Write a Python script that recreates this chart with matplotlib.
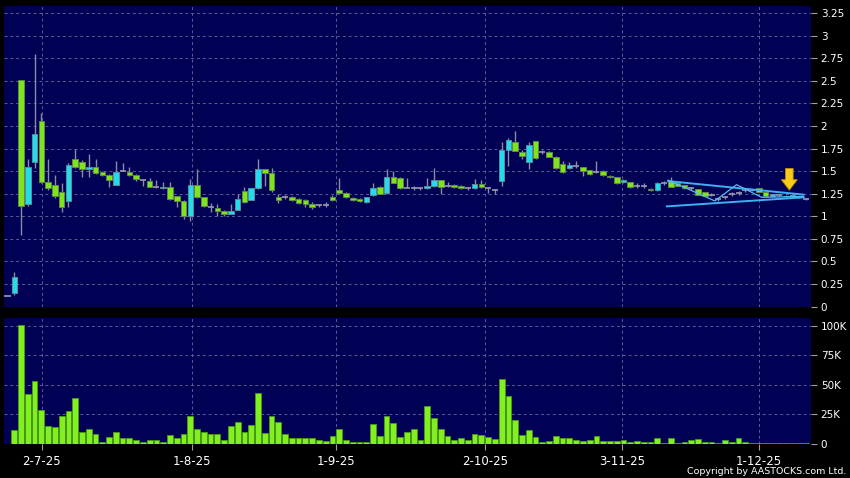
import matplotlib
matplotlib.use('Agg')
import matplotlib.pyplot as plt
import numpy as np

BG = '#000055'
UP = '#22dcee'
DOWN = '#7fe41e'
FLAT = '#9a9aae'
WICK = '#8c8ca0'
GRID = '#5c5c92'

# daily OHLC, one entry per trading day
opens = [0.12, 0.15, 2.51, 1.14, 1.60, 2.06, 1.38, 1.35, 1.27, 1.17,
         1.63, 1.60, 1.52, 1.55, 1.49, 1.46, 1.35, 1.50, 1.49, 1.46,
         1.40, 1.39, 1.32, 1.31, 1.33, 1.22, 1.17, 1.00, 1.35, 1.21,
         1.10, 1.09, 1.06, 1.03, 1.07, 1.28, 1.18, 1.31, 1.52, 1.48,
         1.21, 1.21, 1.21, 1.19, 1.18, 1.14, 1.12, 1.13, 1.21, 1.29,
         1.26, 1.20, 1.19, 1.16, 1.24, 1.33, 1.26, 1.43, 1.42, 1.31,
         1.31, 1.31, 1.31, 1.34, 1.40, 1.34, 1.35, 1.34, 1.31, 1.31,
         1.36, 1.31, 1.29, 1.39, 1.73, 1.82, 1.71, 1.60, 1.83, 1.71,
         1.71, 1.66, 1.58, 1.53, 1.56, 1.55, 1.51, 1.49, 1.50, 1.45,
         1.43, 1.38, 1.38, 1.34, 1.34, 1.30, 1.29, 1.37, 1.39, 1.37,
         1.35, 1.31, 1.30, 1.27, 1.24, 1.19, 1.21, 1.25, 1.26, 1.29,
         1.29, 1.31, 1.27, 1.23, 1.24, 1.22, 1.22, 1.21, 1.19]
highs = [0.12, 0.38, 2.51, 1.63, 2.80, 2.14, 1.64, 1.46, 1.37, 1.59,
         1.75, 1.62, 1.69, 1.64, 1.50, 1.47, 1.61, 1.59, 1.55, 1.47,
         1.41, 1.42, 1.40, 1.38, 1.38, 1.23, 1.18, 1.41, 1.52, 1.21,
         1.15, 1.14, 1.07, 1.14, 1.25, 1.32, 1.31, 1.63, 1.52, 1.54,
         1.25, 1.24, 1.22, 1.20, 1.19, 1.16, 1.14, 1.16, 1.24, 1.42,
         1.27, 1.21, 1.20, 1.21, 1.37, 1.34, 1.52, 1.50, 1.43, 1.42,
         1.34, 1.32, 1.42, 1.54, 1.40, 1.38, 1.36, 1.35, 1.33, 1.41,
         1.40, 1.32, 1.30, 1.82, 1.87, 1.94, 1.74, 1.82, 1.83, 1.74,
         1.72, 1.67, 1.61, 1.60, 1.61, 1.55, 1.51, 1.61, 1.51, 1.46,
         1.43, 1.41, 1.38, 1.37, 1.37, 1.31, 1.38, 1.39, 1.43, 1.38,
         1.35, 1.33, 1.30, 1.27, 1.26, 1.21, 1.23, 1.27, 1.28, 1.30,
         1.30, 1.31, 1.27, 1.25, 1.25, 1.24, 1.23, 1.22, 1.20]
lows = [0.12, 0.13, 0.79, 1.11, 1.53, 1.37, 1.29, 1.20, 1.05, 1.10,
        1.53, 1.43, 1.43, 1.47, 1.45, 1.32, 1.35, 1.50, 1.45, 1.39,
        1.34, 1.32, 1.31, 1.30, 1.18, 1.10, 0.97, 0.95, 1.20, 1.10,
        1.05, 1.00, 1.00, 1.02, 1.07, 1.15, 1.18, 1.30, 1.34, 1.27,
        1.15, 1.19, 1.17, 1.14, 1.10, 1.08, 1.10, 1.10, 1.17, 1.25,
        1.20, 1.17, 1.16, 1.15, 1.22, 1.25, 1.25, 1.37, 1.30, 1.31,
        1.29, 1.29, 1.30, 1.33, 1.25, 1.32, 1.31, 1.30, 1.29, 1.30,
        1.31, 1.26, 1.25, 1.34, 1.56, 1.72, 1.64, 1.52, 1.64, 1.69,
        1.66, 1.52, 1.48, 1.52, 1.53, 1.45, 1.46, 1.48, 1.45, 1.42,
        1.36, 1.37, 1.31, 1.31, 1.31, 1.28, 1.28, 1.35, 1.33, 1.34,
        1.30, 1.29, 1.24, 1.22, 1.22, 1.17, 1.19, 1.23, 1.24, 1.27,
        1.28, 1.27, 1.23, 1.22, 1.23, 1.21, 1.21, 1.20, 1.18]
closes = [0.12, 0.33, 1.11, 1.55, 1.91, 1.38, 1.31, 1.23, 1.10, 1.57,
          1.55, 1.52, 1.55, 1.48, 1.46, 1.40, 1.49, 1.50, 1.46, 1.41,
          1.40, 1.33, 1.32, 1.32, 1.19, 1.17, 1.00, 1.35, 1.21, 1.11,
          1.10, 1.06, 1.03, 1.06, 1.19, 1.16, 1.31, 1.52, 1.48, 1.29,
          1.18, 1.21, 1.18, 1.15, 1.14, 1.10, 1.12, 1.13, 1.18, 1.26,
          1.21, 1.18, 1.17, 1.21, 1.31, 1.25, 1.44, 1.37, 1.31, 1.31,
          1.31, 1.31, 1.34, 1.40, 1.33, 1.34, 1.32, 1.31, 1.31, 1.36,
          1.32, 1.31, 1.29, 1.73, 1.85, 1.72, 1.67, 1.79, 1.65, 1.71,
          1.66, 1.53, 1.49, 1.57, 1.56, 1.50, 1.47, 1.49, 1.46, 1.43,
          1.37, 1.40, 1.33, 1.34, 1.34, 1.29, 1.37, 1.37, 1.33, 1.34,
          1.31, 1.31, 1.24, 1.22, 1.24, 1.19, 1.21, 1.25, 1.26, 1.29,
          1.29, 1.27, 1.23, 1.25, 1.24, 1.23, 1.22, 1.21, 1.19]
# volume in thousands of shares
volume = [0, 11.1, 100.9, 41.9, 53.0, 28.2, 14.8, 14.2, 23.4, 27.9,
          39.0, 10.0, 12.0, 7.7, 1.7, 5.7, 9.4, 4.3, 4.8, 3.4,
          1.4, 3.4, 3.4, 0.9, 7.1, 4.6, 7.7, 23.6, 12.0, 10.0,
          7.7, 8.5, 2.9, 14.5, 18.5, 10.0, 15.7, 43.0, 8.8, 23.4,
          18.1, 7.7, 5.1, 4.6, 5.1, 4.6, 3.1, 2.3, 6.8, 12.0,
          3.4, 1.7, 1.1, 1.1, 16.8, 6.6, 23.1, 17.4, 5.4, 9.7,
          12.0, 2.6, 32.2, 21.7, 12.3, 6.0, 2.6, 4.3, 3.1, 7.7,
          7.1, 5.7, 3.7, 54.7, 40.2, 20.2, 7.1, 11.1, 5.4, 1.7,
          2.3, 6.6, 4.8, 4.3, 2.6, 2.3, 2.6, 6.0, 2.0, 2.3,
          2.3, 3.1, 0.9, 2.3, 1.1, 0.9, 4.3, 0.3, 4.3, 0.3,
          1.1, 2.6, 3.7, 0.9, 0.9, 0.3, 2.6, 0.9, 4.3, 1.7,
          0.3, 0.6, 0.6, 0.2, 0.1, 0.1, 0.2, 0.3, 0.1]

tick_pos = [5.05, 27.2, 48.5, 70.5, 90.8, 111.0]
tick_labels = ['2-7-25', '1-8-25', '1-9-25', '2-10-25', '3-11-25', '1-12-25']

# drawn trend lines (bar index, price)
upper_line = ([97.6, 117.6], [1.39, 1.24])
lower_line = ([97.4, 117.6], [1.11, 1.21])
zigzag = ([97.6, 104.5, 107.7, 111.4, 117.6], [1.40, 1.17, 1.35, 1.21, 1.22])
arrow_x, arrow_top, arrow_tip = 115.5, 1.53, 1.29

o = np.array(opens); h = np.array(highs); l = np.array(lows); c = np.array(closes)
idx = np.arange(len(o))
price_ticks = np.arange(0, 3.26, 0.25)

fig = plt.figure(figsize=(8.5, 4.78), dpi=100, facecolor='black')
ax1 = fig.add_axes([4/850, 171/478, 807/850, 301/478], facecolor=BG)
ax2 = fig.add_axes([4/850, 34.5/478, 807/850, 125.5/478], facecolor=BG)

for ax in (ax1, ax2):
    for s in ax.spines.values():
        s.set_visible(False)
    ax.set_xlim(-0.52, 118.7)
    for t in tick_pos:
        ax.axvline(t, color=GRID, lw=0.7, ls=(0, (3, 3)), zorder=0)
    ax.yaxis.tick_right()
    ax.tick_params(axis='y', colors='#a0a0a0', labelcolor='white', length=4, pad=3, labelsize=7.5)

# price panel
ax1.set_ylim(-0.005, 3.33)
ax1.set_yticks(price_ticks)
ax1.set_yticklabels(['%g' % v for v in price_ticks])
for v in price_ticks:
    ax1.axhline(v, color=GRID, lw=0.7, ls=(0, (3, 3)), zorder=0)
ax1.set_xticks([])

ax1.vlines(idx, l, h, color=WICK, lw=1, zorder=2)
up = c > o
dn = c < o
fl = c == o
ax1.bar(idx[up], (c - o)[up], bottom=o[up], width=0.82, color=UP, edgecolor='#5a8f9a', lw=0.7, zorder=3)
ax1.bar(idx[dn], (o - c)[dn], bottom=c[dn], width=0.82, color=DOWN, edgecolor='#5f8a45', lw=0.7, zorder=3)
ax1.hlines(c[fl], idx[fl] - 0.45, idx[fl] + 0.45, color=FLAT, lw=1.2, zorder=3)

ax1.plot(*upper_line, color='#3fb0f2', lw=1.4, zorder=4)
ax1.plot(*lower_line, color='#3fb0f2', lw=1.4, zorder=4)
ax1.plot(*zigzag, color='#58b8f0', lw=0.9, zorder=4)
ax1.annotate('', xy=(arrow_x, arrow_tip), xytext=(arrow_x, arrow_top),
             arrowprops=dict(arrowstyle='simple,head_width=1.15,head_length=0.75,tail_width=0.55',
                             fc='#f7cc1a', ec='#c88a00', lw=0.6, shrinkA=0, shrinkB=0), zorder=5)

# volume panel
vol_ticks = [0, 25, 50, 75, 100]
ax2.set_ylim(0, 106.8)
ax2.set_yticks(vol_ticks)
ax2.set_yticklabels(['0', '25K', '50K', '75K', '100K'])
for v in vol_ticks[1:]:
    ax2.axhline(v, color=GRID, lw=0.7, ls=(0, (3, 3)), zorder=0)
ax2.bar(idx, volume, width=0.85, color='#80f020', edgecolor='#4c9a14', lw=0.6, zorder=3)
ax2.set_xticks(tick_pos)
ax2.set_xticklabels(tick_labels)
ax2.tick_params(axis='x', colors='#a0a0a0', labelcolor='white', length=4, pad=4, labelsize=8.5)

fig.text(0.996, 0.004, 'Copyright by AASTOCKS.com Ltd.', color='white', fontsize=6.8, ha='right', va='bottom')

plt.savefig('out.png', dpi=100, facecolor='black')
